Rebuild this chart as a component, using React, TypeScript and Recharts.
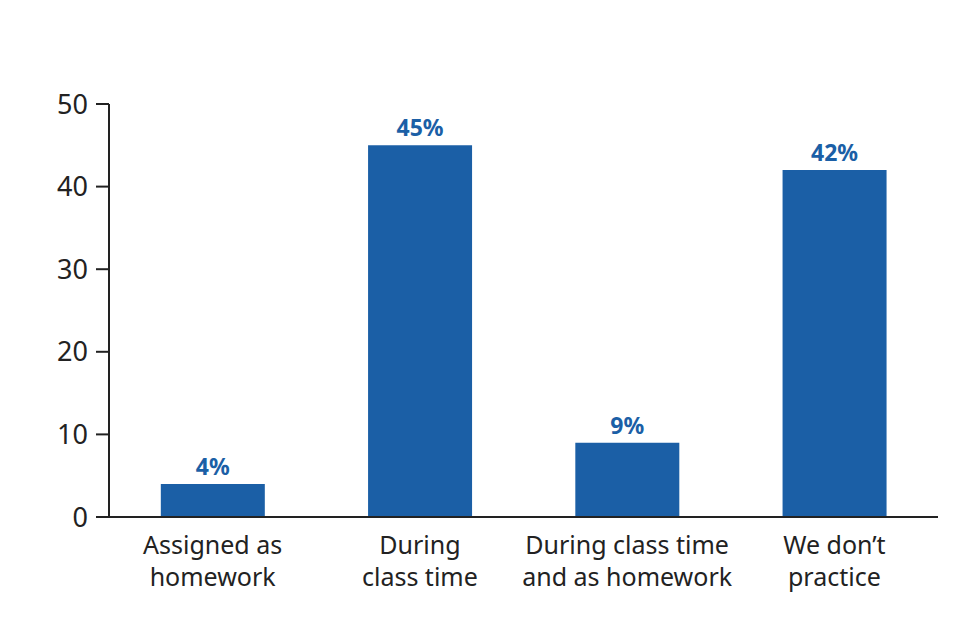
import { BarChart, Bar, XAxis, YAxis, LabelList } from "recharts";

const categories = [
  ["Assigned as", "homework"],
  ["During", "class time"],
  ["During class time", "and as homework"],
  ["We don\u2019t", "practice"],
];
const shares = [4, 45, 9, 42];
const yTicks = [0, 10, 20, 30, 40, 50];

const data = categories.map((lines, i) => ({
  name: lines.join(" "),
  lines,
  value: shares[i],
}));

const BLUE = "#1b5fa6";
const FONT = "'Noto Sans', sans-serif";

function CategoryTick({ x, y, index }: any) {
  const lines = categories[index] || [];
  return (
    <g transform={`translate(${x},${y})`}>
      {lines.map((line, i) => (
        <text
          key={i}
          x={0}
          y={29 + i * 32}
          textAnchor="middle"
          fill="#222"
          fontSize={25}
          fontFamily={FONT}
        >
          {line}
        </text>
      ))}
    </g>
  );
}

export default function App() {
  return (
    <div style={{ width: 960, height: 626 }}>
      <style>{"body{margin:0}"}</style>
      <BarChart
        width={960}
        height={626}
        data={data}
        margin={{ top: 104, right: 22, left: 0, bottom: 79 }}
        barCategoryGap="25%"
      >
        <XAxis
          dataKey="name"
          height={30}
          tickLine={false}
          axisLine={{ stroke: "#222", strokeWidth: 2 }}
          tick={<CategoryTick />}
          interval={0}
        />
        <YAxis
          width={109}
          domain={[0, 50]}
          ticks={yTicks}
          tickSize={13}
          tickMargin={8}
          axisLine={{ stroke: "#222", strokeWidth: 2 }}
          tickLine={{ stroke: "#222", strokeWidth: 2 }}
          tick={{ fill: "#222", fontSize: 27, fontFamily: FONT }}
        />
        <Bar dataKey="value" fill={BLUE} isAnimationActive={false}>
          <LabelList
            dataKey="value"
            position="top"
            offset={9}
            formatter={(v: any) => `${v}%`}
            fill={BLUE}
            fontSize={23}
            fontWeight="bold"
            fontFamily={FONT}
          />
        </Bar>
      </BarChart>
    </div>
  );
}
